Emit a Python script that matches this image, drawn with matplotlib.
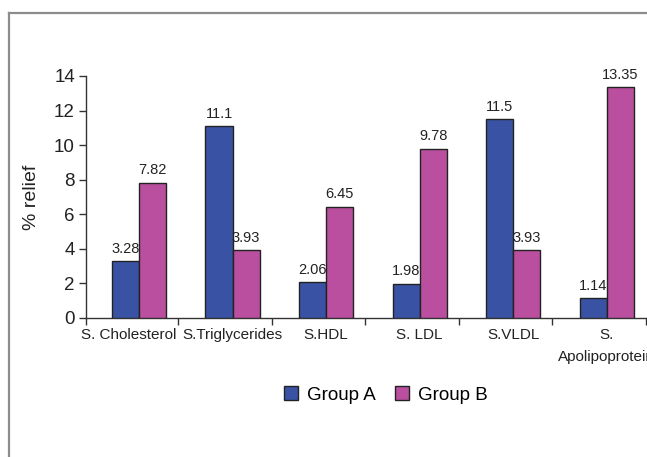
import matplotlib
matplotlib.use("Agg")
import matplotlib.pyplot as plt
import matplotlib.transforms as mtransforms
from matplotlib.lines import Line2D
from matplotlib.patches import Patch
import numpy as np

categories = ["S. Cholesterol", "S.Triglycerides", "S.HDL", "S. LDL", "S.VLDL", "S.\nApolipoprotein"]
group_a = [3.28, 11.1, 2.06, 1.98, 11.5, 1.14]
group_b = [7.82, 3.93, 6.45, 9.78, 3.93, 13.35]
value_labels_a = ["3.28", "11.1", "2.06", "1.98", "11.5", "1.14"]
value_labels_b = ["7.82", "3.93", "6.45", "9.78", "3.93", "13.35"]
yticks = [0, 2, 4, 6, 8, 10, 12, 14]

W, H = 647, 457
fig = plt.figure(figsize=(W / 100, H / 100), dpi=100)
fig.patch.set_facecolor("white")

# outer frame (left and top edges only visible)
fig.add_artist(Line2D([9 / W, 9 / W], [0, 1 - 13 / H], color="#8c8c8c", lw=1.6))
fig.add_artist(Line2D([9 / W, 1], [1 - 13 / H, 1 - 13 / H], color="#8c8c8c", lw=1.6))

left, right = 86 / W, 646 / W
bottom, top = 1 - 318 / H, 1 - 76 / H
ax = fig.add_axes([left, bottom, right - left, top - bottom])

blue = "#3a52a3"
pink = "#b94f9e"
x = np.arange(len(categories))
bw = 0.29
ax.bar(x - bw / 2, group_a, bw, color=blue, edgecolor="#222222", linewidth=1.0, zorder=3)
ax.bar(x + bw / 2, group_b, bw, color=pink, edgecolor="#222222", linewidth=1.0, zorder=3)

lab_font = dict(family=["Liberation Sans", "DejaVu Sans"], fontsize=10.5, color="#222222")
for xi, v, t in zip(x, group_a, value_labels_a):
    ax.annotate(t, (xi - bw / 2, v), xytext=(0, 4), textcoords="offset points",
                ha="center", va="bottom", **lab_font)
for xi, v, t in zip(x, group_b, value_labels_b):
    ax.annotate(t, (xi + bw / 2, v), xytext=(0, 4), textcoords="offset points",
                ha="center", va="bottom", **lab_font)

ax.set_xlim(-0.567, 5.42)
ax.set_ylim(0, 14)
ax.set_yticks(yticks)
ax.set_yticklabels([str(t) for t in yticks], fontsize=13.5,
                   family=["Liberation Sans", "DejaVu Sans"], color="#222222")
ax.tick_params(axis="y", direction="out", length=5, width=1, color="#333333", pad=3)

# category labels at centres, boundary tick marks as minor ticks
ax.set_xticks(x)
ax.set_xticklabels(categories, fontsize=11,
                   family=["Liberation Sans", "DejaVu Sans"],
                   color="#222222", linespacing=1.75)
ax.tick_params(axis="x", which="major", length=0, pad=7)
ax.set_xticks(list(x + 0.417) + [-0.567], minor=True)
ax.tick_params(axis="x", which="minor", direction="out", length=5, width=1, color="#333333")
first = ax.get_xticklabels()[0]
first.set_transform(first.get_transform() +
                    mtransforms.ScaledTranslation(-0.10, 0, fig.dpi_scale_trans))

for s in ["top", "right"]:
    ax.spines[s].set_visible(False)
for s in ["left", "bottom"]:
    ax.spines[s].set_color("#333333")
    ax.spines[s].set_linewidth(1.0)

ax.set_ylabel("% relief", fontsize=14, family=["Liberation Sans", "DejaVu Sans"],
              color="#222222", labelpad=10)

handles = [Patch(facecolor=blue, edgecolor="#222222", label="Group A"),
           Patch(facecolor=pink, edgecolor="#222222", label="Group B")]
fig.legend(handles=handles, loc="center", bbox_to_anchor=(386 / W, 1 - 395 / H),
           ncol=2, frameon=False, prop=dict(family=["Liberation Sans", "DejaVu Sans"], size=13.5),
           handlelength=0.75, handleheight=0.75, handletextpad=0.5, columnspacing=1.0)

fig.savefig("out.png", dpi=100)
